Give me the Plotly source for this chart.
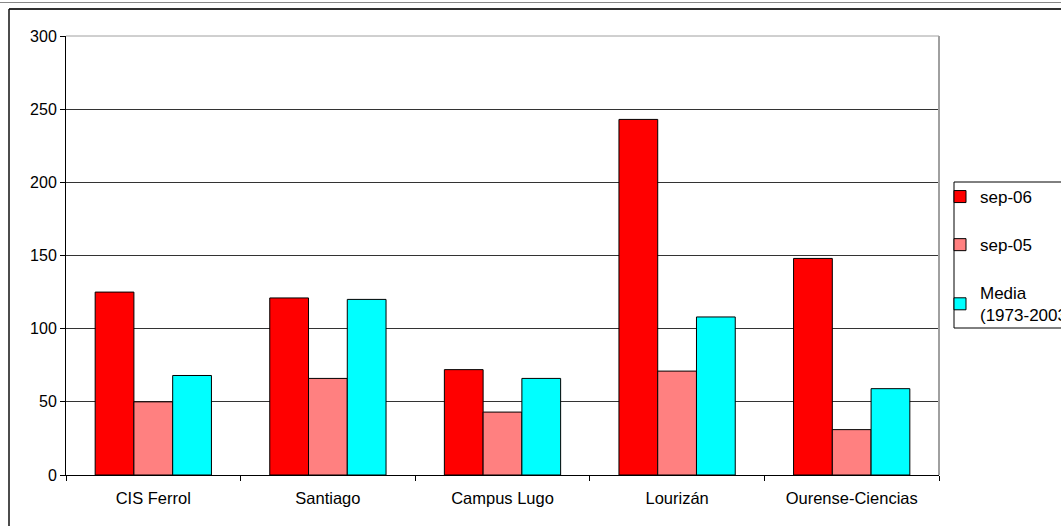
import plotly.graph_objects as go

categories = ["CIS Ferrol", "Santiago", "Campus Lugo", "Lourizán", "Ourense-Ciencias"]
sep06 = [125, 121, 72, 243, 148]
sep05 = [50, 66, 43, 71, 31]
media = [68, 120, 66, 108, 59]
series_names = ["sep-06", "sep-05", "Media<br>(1973-2003)"]
series_colors = ["#FF0000", "#FF8080", "#00FFFF"]
y_ticks = [0, 50, 100, 150, 200, 250, 300]

W, H = 1061, 526
L, R, T, B = 66, 939, 36, 475

def px(x):
    return (x - L) / (R - L)

def py(y):
    return (B - y) / (B - T)

fig = go.Figure()
for name, vals, col, grp in zip(series_names, [sep06, sep05, media], series_colors, ["a", "b", "c"]):
    fig.add_trace(go.Bar(
        x=categories, y=vals, name=name, legendgroup=grp,
        marker=dict(color=col, line=dict(color="#000000", width=1)),
    ))

font = "Liberation Sans, Arial, sans-serif"
fig.update_layout(
    width=W, height=H,
    margin=dict(l=L, r=W - R, t=T, b=H - B, autoexpand=False),
    paper_bgcolor="white", plot_bgcolor="white",
    barmode="group", bargap=0.334, bargroupgap=0,
    font=dict(family=font, size=16, color="#000000"),
    showlegend=True,
    legend=dict(
        x=px(940), y=py(179), xanchor="left", yanchor="top",
        bgcolor="rgba(0,0,0,0)", borderwidth=0,
        font=dict(family=font, size=17, color="#000000"),
        tracegroupgap=23, traceorder="grouped",
    ),
    xaxis=dict(
        showline=True, linecolor="#000000", linewidth=1,
        ticks="outside", ticklen=5, tickcolor="#000000", tickson="boundaries",
        showgrid=False, tickfont=dict(size=16.5), ticklabelstandoff=8,
    ),
    yaxis=dict(
        range=[0, 300], tickvals=y_ticks,
        showline=True, linecolor="#000000", linewidth=1,
        ticks="outside", ticklen=5, tickcolor="#000000",
        showgrid=True, gridcolor="#333333", gridwidth=1,
        zeroline=False, tickfont=dict(size=16),
    ),
    shapes=[
        # plot area border (gray, top and right)
        dict(type="line", xref="paper", yref="paper", x0=0, x1=1, y0=1, y1=1,
             line=dict(color="#A0A0A0", width=1)),
        dict(type="line", xref="paper", yref="paper", x0=1, x1=1, y0=0, y1=1,
             line=dict(color="#A0A0A0", width=2)),
        # outer chart border
        dict(type="line", xref="paper", yref="paper", x0=px(9), x1=px(1070), y0=py(9), y1=py(9),
             line=dict(color="#333333", width=2)),
        dict(type="line", xref="paper", yref="paper", x0=px(9), x1=px(9), y0=py(9), y1=py(540),
             line=dict(color="#111111", width=1.5)),
        # thin line at very top
        dict(type="line", xref="paper", yref="paper", x0=px(0), x1=px(1070), y0=py(2.5), y1=py(2.5),
             line=dict(color="#888888", width=1)),
        # legend box
        dict(type="rect", xref="paper", yref="paper", x0=px(954), x1=px(1080), y0=py(182), y1=py(328),
             line=dict(color="#000000", width=1), fillcolor="rgba(0,0,0,0)"),
    ],
)

fig.write_html("out.html")
